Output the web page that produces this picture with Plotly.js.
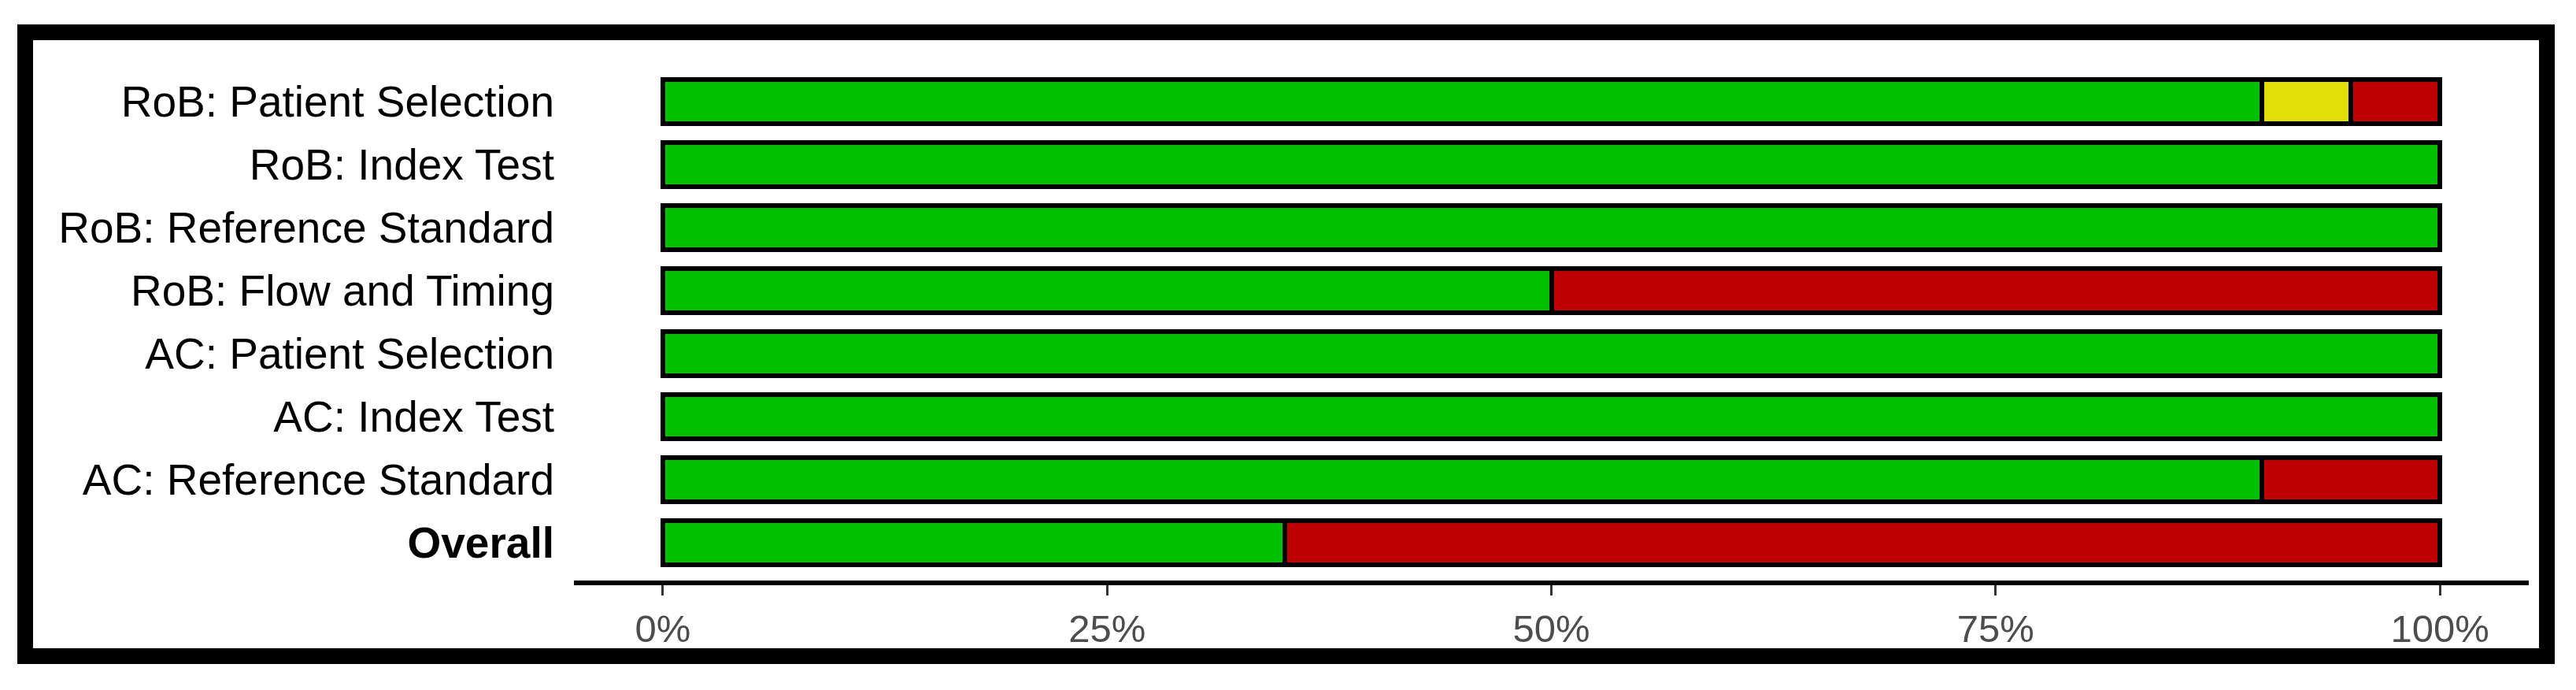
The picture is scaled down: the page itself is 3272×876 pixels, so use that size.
<!DOCTYPE html>
<html>
<head>
<meta charset="utf-8">
<script src="https://cdn.plot.ly/plotly-3.0.1.min.js"></script>
<style>
html, body { margin: 0; padding: 0; background: #fff; }
#chart { width: 3272px; height: 876px; }
</style>
</head>
<body>
<div id="chart"></div>
<script>
// domains, top to bottom
const domains = [
  "RoB: Patient Selection",
  "RoB: Index Test",
  "RoB: Reference Standard",
  "RoB: Flow and Timing",
  "AC: Patient Selection",
  "AC: Index Test",
  "AC: Reference Standard",
  "Overall"
]
const domainLabels = domains.map(d => d === "Overall" ? "<b>Overall</b>" : d)

// percent of studies per judgement
const low     = [90, 100, 100, 50, 100, 100, 90, 35]
const unclear = [ 5,   0,   0,  0,   0,   0,  0,  0]
const high    = [ 5,   0,   0, 50,   0,   0, 10, 65]

const xTicks = [0, 25, 50, 75, 100]
const xTickText = xTicks.map(v => v + '%')

const colors = {low: "#02C100", unclear: "#E2DF07", high: "#BF0000"}

// plot area in pixels
const W = 3272, H = 876
const m = {l: 729, r: 60, t: 81, b: 139}
const pw = W - m.l - m.r, ph = H - m.t - m.b
const px = v => (v - m.l) / pw
const py = v => (H - m.b - v) / ph

const mk = (name, vals, color) => ({
  type: 'bar',
  orientation: 'h',
  name: name,
  x: vals,
  y: domains,
  marker: {color: color, line: {color: '#000', width: 6}},
  hoverinfo: 'x+y'
})

const data = [
  mk('Low', low, colors.low),
  mk('Unclear', unclear, colors.unclear),
  mk('High', high, colors.high)
]

const layout = {
  width: W,
  height: H,
  margin: m,
  barmode: 'stack',
  bargap: 0.29,
  showlegend: false,
  paper_bgcolor: '#fff',
  plot_bgcolor: '#fff',
  font: {family: 'Liberation Sans, Arial, sans-serif', color: '#000'},
  xaxis: {
    range: [-5, 105],
    tickmode: 'array',
    tickvals: xTicks,
    ticktext: xTickText,
    showgrid: false,
    zeroline: false,
    showline: true,
    linecolor: '#000',
    linewidth: 6,
    ticks: 'outside',
    ticklen: 13,
    tickwidth: 3,
    tickcolor: '#333',
    tickfont: {size: 49, color: '#4D4D4D'},
    fixedrange: true
  },
  yaxis: {
    type: 'category',
    categoryorder: 'array',
    categoryarray: domains,
    tickvals: domains,
    ticktext: domainLabels,
    range: [7.6, -0.6],
    showgrid: false,
    zeroline: false,
    showline: false,
    ticks: '',
    ticklabelstandoff: 24,
    tickfont: {size: 55, color: '#000'},
    fixedrange: true
  },
  shapes: [{
    type: 'rect',
    xref: 'paper', yref: 'paper',
    x0: px(32), x1: px(3235),
    y0: py(833), y1: py(41),
    line: {color: '#000', width: 20},
    layer: 'above'
  }]
}

Plotly.newPlot('chart', data, layout, {displayModeBar: false, staticPlot: true})
</script>
</body>
</html>
